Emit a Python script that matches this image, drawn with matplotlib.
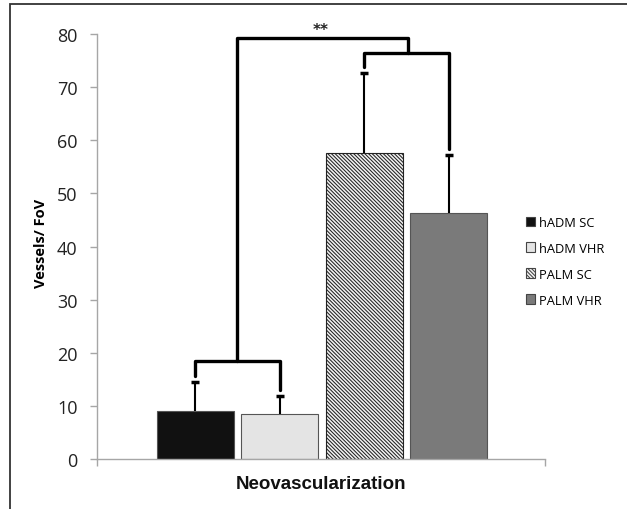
import numpy as np
import matplotlib.pyplot as plt
from matplotlib.patches import Rectangle, Patch

# data
groups = ['hADM SC', 'hADM VHR', 'PALM SC', 'PALM VHR']
means = [9.0, 8.4, 57.7, 46.3]
errs = [5.5, 3.4, 14.9, 10.9]
colors = ['#111111', '#e4e4e4', '#f2f2f2', '#7a7a7a']
hatches = [None, None, '\\' * 9, None]
pair_y = [18.5, 76.5]      # bracket heights for hADM pair and PALM pair
top_y = 79.2               # bracket joining the two pairs
sig_label = '**'

plt.rcParams['hatch.linewidth'] = 0.75

fig = plt.figure(figsize=(6.27, 5.10), dpi=100)
ax = fig.add_axes([0.1547, 0.098, 0.7145, 0.8333])

x = np.arange(len(groups))
bars = ax.bar(x, means, width=0.91, color=colors, edgecolor='#555555',
              linewidth=0.8, zorder=2)
for b, h in zip(bars, hatches):
    if h:
        b.set_hatch(h)
        b.set_edgecolor('#222222')

# upper error bars only (stem + cap)
tops = [m + e for m, e in zip(means, errs)]
ax.vlines(x, means, tops, color='black', lw=1.5, zorder=3)
ax.plot(x, tops, ls='none', marker='_', ms=6, mew=2.5, color='black', zorder=3)

lw = 2.4
kw = dict(color='black', lw=lw, solid_capstyle='round', solid_joinstyle='round', zorder=4)
# hADM pair
ax.plot([x[0], x[0], x[1], x[1]],
        [tops[0] + 1.2, pair_y[0], pair_y[0], tops[1] + 1.2], **kw)
# PALM pair
ax.plot([x[2], x[2], x[3], x[3]],
        [tops[2] + 1.2, pair_y[1], pair_y[1], tops[3] + 1.2], **kw)
# joining bracket
mid1 = (x[0] + x[1]) / 2
mid2 = (x[2] + x[3]) / 2 + 0.02
ax.plot([mid1, mid1, mid2, mid2], [pair_y[0], top_y, top_y, pair_y[1]], **kw)
ax.text((mid1 + mid2) / 2 - 0.02, top_y + 0.2, sig_label, ha='center', va='bottom',
        fontsize=11, fontweight='bold', color='#222222')

ax.set_xlim(-1.16, 4.136)
ax.set_ylim(0, 80)
ax.set_yticks(range(0, 81, 10))
ax.set_xticks([-1.16, 4.136])
ax.set_xticklabels(['', ''])
for s in ['top', 'right']:
    ax.spines[s].set_visible(False)
for s in ['left', 'bottom']:
    ax.spines[s].set_color('#a6a6a6')
    ax.spines[s].set_linewidth(1.0)
ax.tick_params(axis='both', color='#a6a6a6', length=5, width=1.0, direction='out')
ax.tick_params(axis='y', labelsize=13, labelcolor='#222222', pad=9)
for t in ax.get_yticklabels():
    t.set_fontfamily('Open Sans')

ax.set_ylabel('Vessels/ FoV', fontsize=10.5, fontweight='bold', fontfamily='Open Sans')
ax.yaxis.set_label_coords(-0.109, 0.51)
ax.set_xlabel('Neovascularization', fontsize=13.5, fontweight='bold',
              fontfamily='Liberation Sans', color='#111111')
ax.xaxis.set_label_coords(0.5, -0.038)

handles = [Patch(facecolor=c, edgecolor='#444444', hatch=h, linewidth=0.8)
           for c, h in zip(colors, hatches)]
leg = fig.legend(handles, groups, loc='center left', bbox_to_anchor=(0.82, 0.486),
                 frameon=False, handlelength=0.75, handleheight=0.75,
                 handletextpad=0.3, labelspacing=1.0,
                 prop={'family': 'Open Sans', 'size': 9.3})

# outer frame of the original figure
fig.patches.append(Rectangle((0.016, -0.1), 1.2, 1.09, transform=fig.transFigure,
                             fill=False, edgecolor='#333333', lw=1.3))

fig.savefig('out.png', dpi=100)
